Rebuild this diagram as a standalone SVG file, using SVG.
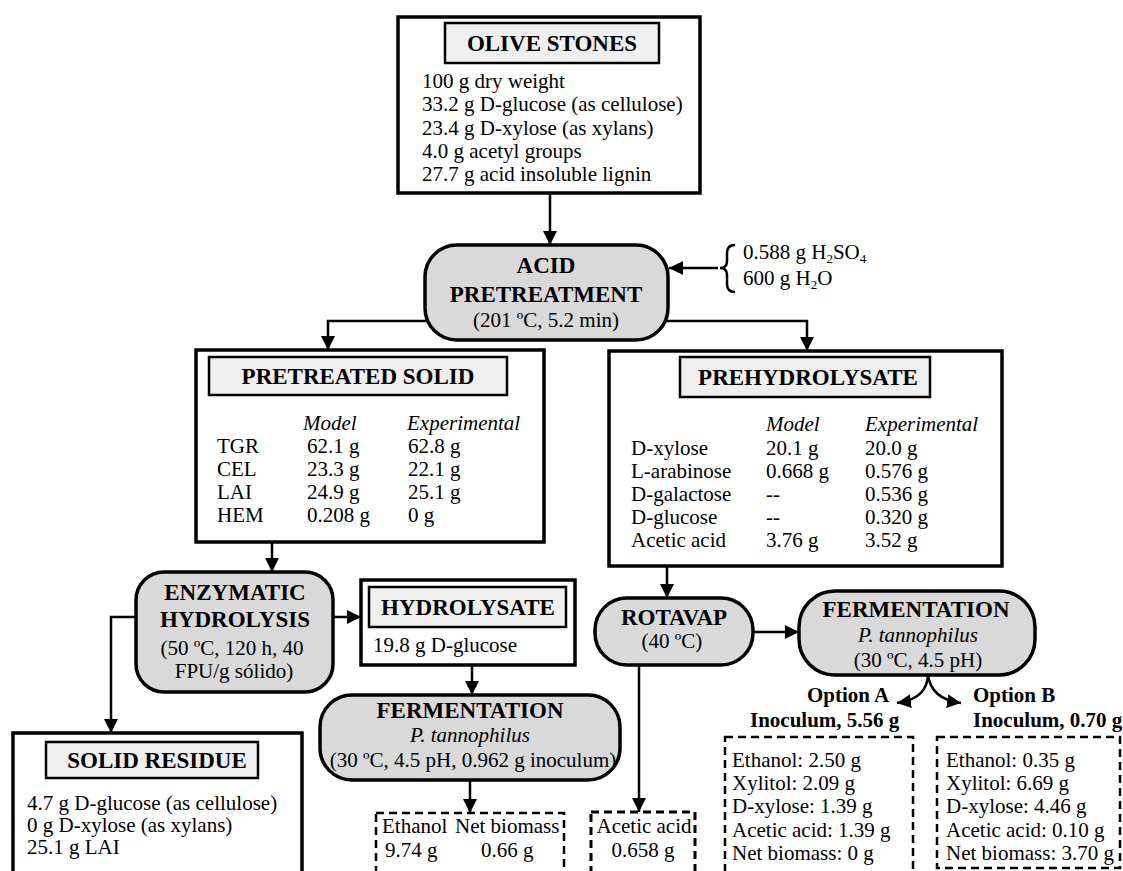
<svg xmlns="http://www.w3.org/2000/svg" width="1123" height="871" viewBox="0 0 1123 871">
<defs>
<marker id="ah" viewBox="0 0 10 10" refX="10" refY="5" markerWidth="14" markerHeight="14" markerUnits="userSpaceOnUse" orient="auto">
<path d="M0,0 L10,5 L0,10 z" fill="#000"/>
</marker>
<style>
text{font-family:"Liberation Serif","Times New Roman",serif;font-size:21px;fill:#000}
.h{font-weight:bold;font-size:23px;text-anchor:middle}
.b{font-weight:bold}
.i{font-style:italic}
.m{text-anchor:middle}
.box{fill:#fff;stroke:#000;stroke-width:3.5}
.title{fill:#efefef;stroke:#000;stroke-width:2.5}
.proc{fill:#d9d9d9;stroke:#000;stroke-width:3.5}
.dash{fill:none;stroke:#000;stroke-width:2.5;stroke-dasharray:8 5}
.con{fill:none;stroke:#000;stroke-width:2.5}
.arr{marker-end:url(#ah)}
.sub{font-size:13px}
</style>
</defs>
<rect width="1123" height="871" fill="#fff"/>

<g id="connectors">
<path class="con arr" d="M550,193 L550,245"/>
<path class="con arr" d="M718,268 L669,268"/>
<path class="con" d="M735,245 Q727,245 727,253 L727,261 Q727,268 720,268 Q727,268 727,275 L727,284 Q727,292 735,292"/>
<path class="con arr" d="M430,321 L328,321 L328,350"/>
<path class="con arr" d="M663,321 L807,321 L807,351"/>
<path class="con arr" d="M272,542 L272,572"/>
<path class="con arr" d="M333,617 L361,617"/>
<path class="con arr" d="M136,617 L111,617 L111,733"/>
<path class="con arr" d="M472,665 L472,695"/>
<path class="con arr" d="M470,780 L470,813"/>
<path class="con arr" d="M667,566 L667,598"/>
<path class="con arr" d="M753,632 L799,632"/>
<path class="con arr" d="M639,665 L639,812"/>
<path class="con arr" d="M928,675 Q927,699 897,703"/>
<path class="con arr" d="M928,675 Q931,699 961,703"/>
</g>

<g id="olive-stones">
<rect class="box" x="398" y="17" width="302" height="176"/>
<rect class="title" x="445" y="23" width="214" height="40"/>
<text class="h" x="552" y="51">OLIVE STONES</text>
<text x="422" y="88">100 g dry weight</text>
<text x="422" y="111">33.2 g D-glucose (as cellulose)</text>
<text x="422" y="135">23.4 g D-xylose (as xylans)</text>
<text x="422" y="158">4.0 g acetyl groups</text>
<text x="422" y="181">27.7 g acid insoluble lignin</text>
</g>

<g id="acid-inputs">
<text x="743" y="259">0.588 g H<tspan class="sub" dy="4">2</tspan><tspan dy="-4">SO</tspan><tspan class="sub" dy="4">4</tspan></text>
<text x="743" y="285">600 g H<tspan class="sub" dy="4">2</tspan><tspan dy="-4">O</tspan></text>
</g>

<g id="acid-pretreatment">
<rect class="proc" x="425" y="245" width="243" height="95" rx="32"/>
<text class="h" x="546" y="273">ACID</text>
<text class="h" x="546" y="302">PRETREATMENT</text>
<text class="m" x="546" y="327">(201 ºC, 5.2 min)</text>
</g>

<g id="pretreated-solid">
<rect class="box" x="196" y="350" width="348" height="192"/>
<rect class="title" x="209" y="357" width="298" height="38"/>
<text class="h" x="358" y="384">PRETREATED SOLID</text>
<text class="i" x="303" y="430">Model</text>
<text class="i" x="407" y="430">Experimental</text>
<text x="217" y="453">TGR</text><text x="307" y="453">62.1 g</text><text x="408" y="453">62.8 g</text>
<text x="217" y="476">CEL</text><text x="307" y="476">23.3 g</text><text x="408" y="476">22.1 g</text>
<text x="217" y="499">LAI</text><text x="307" y="499">24.9 g</text><text x="408" y="499">25.1 g</text>
<text x="217" y="522">HEM</text><text x="307" y="522">0.208 g</text><text x="408" y="522">0 g</text>
</g>

<g id="prehydrolysate">
<rect class="box" x="609" y="351" width="393" height="215"/>
<rect class="title" x="680" y="357" width="250" height="40"/>
<text class="h" x="808" y="385">PREHYDROLYSATE</text>
<text class="i" x="766" y="431">Model</text>
<text class="i" x="865" y="431">Experimental</text>
<text x="631" y="455">D-xylose</text><text x="766" y="455">20.1 g</text><text x="865" y="455">20.0 g</text>
<text x="631" y="478">L-arabinose</text><text x="766" y="478">0.668 g</text><text x="865" y="478">0.576 g</text>
<text x="631" y="501">D-galactose</text><text x="766" y="501">--</text><text x="865" y="501">0.536 g</text>
<text x="631" y="524">D-glucose</text><text x="766" y="524">--</text><text x="865" y="524">0.320 g</text>
<text x="631" y="547">Acetic acid</text><text x="766" y="547">3.76 g</text><text x="865" y="547">3.52 g</text>
</g>

<g id="enzymatic-hydrolysis">
<rect class="proc" x="136" y="572" width="197" height="120" rx="28"/>
<text class="h" x="235" y="600">ENZYMATIC</text>
<text class="h" x="235" y="627">HYDROLYSIS</text>
<text class="m" x="232" y="655">(50 ºC, 120 h, 40</text>
<text class="m" x="234" y="678">FPU/g sólido)</text>
</g>

<g id="hydrolysate">
<rect class="box" x="361" y="580" width="214" height="85"/>
<rect class="title" x="369" y="587" width="197" height="40"/>
<text class="h" x="468" y="615">HYDROLYSATE</text>
<text x="373" y="652">19.8 g D-glucose</text>
</g>

<g id="solid-residue">
<rect class="box" x="13" y="733" width="289" height="150"/>
<rect class="title" x="46" y="742" width="212" height="36"/>
<text class="h" x="157" y="768">SOLID RESIDUE</text>
<text x="27" y="810">4.7 g D-glucose (as cellulose)</text>
<text x="27" y="832">0 g D-xylose (as xylans)</text>
<text x="27" y="854">25.1 g LAI</text>
</g>

<g id="fermentation-left">
<rect class="proc" x="320" y="695" width="300" height="85" rx="32"/>
<text class="h" x="470" y="718">FERMENTATION</text>
<text class="m i" x="470" y="742">P. tannophilus</text>
<text class="m" x="473" y="767">(30 ºC, 4.5 pH, 0.962 g inoculum)</text>
</g>

<g id="products-left">
<rect class="dash" x="376" y="813" width="188" height="70"/>
<text x="382" y="833">Ethanol</text>
<text x="455" y="833">Net biomass</text>
<text x="385" y="857">9.74 g</text>
<text x="481" y="857">0.66 g</text>
</g>

<g id="rotavap">
<rect class="proc" x="595" y="598" width="158" height="67" rx="32"/>
<text class="h" x="674" y="625">ROTAVAP</text>
<text class="m" x="672" y="648">(40 ºC)</text>
</g>

<g id="acetic-acid">
<rect class="dash" x="591" y="812" width="104" height="70" style="stroke-width:3"/>
<text class="m" x="644" y="833">Acetic acid</text>
<text class="m" x="643" y="857">0.658 g</text>
</g>

<g id="fermentation-right">
<rect class="proc" x="799" y="591" width="236" height="84" rx="36"/>
<text class="h" x="916" y="617">FERMENTATION</text>
<text class="m i" x="918" y="642">P. tannophilus</text>
<text class="m" x="918" y="667">(30 ºC, 4.5 pH)</text>
</g>

<g id="option-a">
<text class="b" x="807" y="702">Option A</text>
<text class="b" x="750" y="727">Inoculum, 5.56 g</text>
<rect class="dash" x="725" y="737" width="188" height="146"/>
<text x="732" y="767">Ethanol: 2.50 g</text>
<text x="732" y="790">Xylitol: 2.09 g</text>
<text x="732" y="813">D-xylose: 1.39 g</text>
<text x="732" y="837">Acetic acid: 1.39 g</text>
<text x="732" y="860">Net biomass: 0 g</text>
</g>

<g id="option-b">
<text class="b" x="973" y="702">Option B</text>
<text class="b" x="973" y="727">Inoculum, 0.70 g</text>
<rect class="dash" x="937" y="737" width="183" height="131"/>
<text x="946" y="767">Ethanol: 0.35 g</text>
<text x="946" y="790">Xylitol: 6.69 g</text>
<text x="946" y="813">D-xylose: 4.46 g</text>
<text x="946" y="837">Acetic acid: 0.10 g</text>
<text x="946" y="860">Net biomass: 3.70 g</text>
</g>
</svg>
